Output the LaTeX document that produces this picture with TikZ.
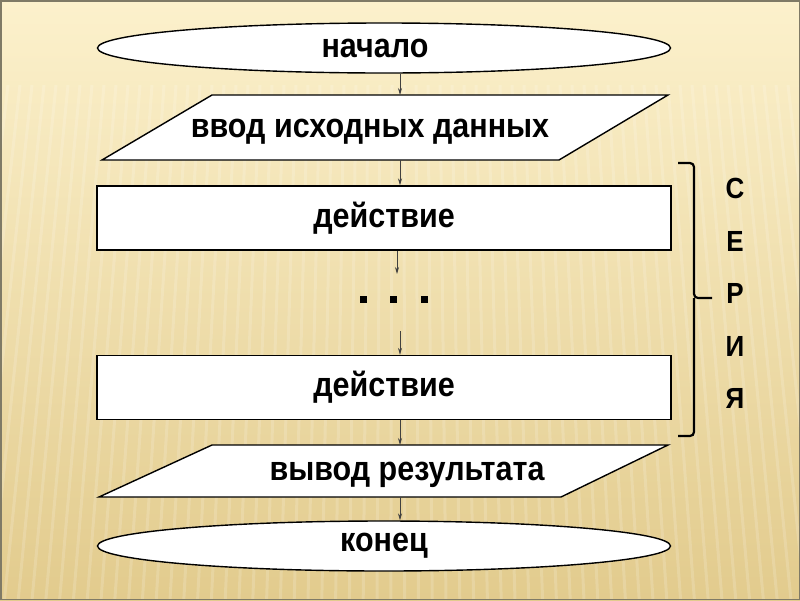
\documentclass[tikz,border=0pt]{standalone}
\usepackage{fontspec}
\usepackage{graphicx}
\setmainfont{Liberation Sans}
\usetikzlibrary{shapes.geometric,arrows.meta}

\definecolor{bgtop}{HTML}{FCF1CC}
\definecolor{bgmid}{HTML}{F3E2A8}
\definecolor{bgbot}{HTML}{E2CB8D}
\definecolor{framegray}{HTML}{7F7A66}
\definecolor{arrowgray}{HTML}{404040}

\newcommand\tall[1]{\scalebox{1}[1.12]{#1}}

\begin{document}
\begin{tikzpicture}[x=1pt,y=-1pt,
  term/.style={ellipse,draw,line width=1.4pt,fill=white,minimum width=573pt,minimum height=50pt,inner sep=0pt,font=\bfseries\fontsize{30.5}{36}\selectfont},
  act/.style={rectangle,draw,line width=1.4pt,fill=white,minimum width=574pt,minimum height=64pt,inner sep=0pt,font=\bfseries\fontsize{30.5}{36}\selectfont},
  iobox/.style={draw,line width=1.4pt,fill=white},
  txt/.style={inner sep=0pt,anchor=base,font=\bfseries\fontsize{30.5}{36}\selectfont},
  flow/.style={-{Stealth[length=7pt,width=4pt]},arrowgray,line width=0.7pt},
  letter/.style={inner sep=0pt,font=\bfseries\fontsize{26}{30}\selectfont}]
  % background
  \shade[top color=bgtop,middle color=bgmid,bottom color=bgbot] (0,0) rectangle (800,600);
  \begin{scope}
    \clip (0,85) rectangle (800,600);
    \foreach \i in {-40,-28,...,840}
      \draw[white,opacity=0.16,line width=3pt] (\i,85) -- ({\i+(\i-400)*0.15},600);
  \end{scope}
  \draw[framegray,line width=1.5pt] (0.75,0.75) rectangle (799.25,599.25);
  % parallelograms
  \coordinate (inpTL) at (212,95);
  \coordinate (inpTR) at (668,95);
  \coordinate (inpBR) at (559,160);
  \coordinate (inpBL) at (102,160);
  \coordinate (outTL) at (212,445);
  \coordinate (outTR) at (668,445);
  \coordinate (outBR) at (561,497);
  \coordinate (outBL) at (99,497);
  \draw[iobox] (inpTL) -- (inpTR) -- (inpBR) -- (inpBL) -- cycle;
  \draw[iobox] (outTL) -- (outTR) -- (outBR) -- (outBL) -- cycle;
  % blocks
  \node[term] (start) at (384,48) {\hspace*{-18pt}\tall{начало}};
  \node[txt] (inp) at (370,137) {\tall{ввод исходных данных}};
  \node[act] (act1) at (384,218) {\tall{действие}};
  \node[act] (act2) at (384,387.5) {\tall{действие}};
  \node[txt] (outp) at (407,480) {\tall{вывод результата}};
  \node[term] (stop) at (384,546) {\tall{конец}};
  % dots
  \foreach \x in {363,393,424}
    \fill (\x-3.5,295.5) rectangle ++(7,7);
  % arrows
  \coordinate (ax) at (400,0);
  \coordinate (gap1) at (397,274);
  \coordinate (gap2) at (400,331);
  \draw[flow] (start.south -| ax) -- (inpTL -| ax);
  \draw[flow] (inpBL -| ax) -- (act1.north -| ax);
  \draw[flow] (act1.south -| gap1) -- (gap1);
  \draw[flow] (gap2) -- (act2.north -| gap2);
  \draw[flow] (act2.south -| ax) -- (outTL -| ax);
  \draw[flow] (outBL -| ax) -- (stop.north -| ax);
  % brace
  \coordinate (braceTop) at (678,163);
  \coordinate (braceTip) at (712,298);
  \coordinate (braceBot) at (678,436);
  \draw[line width=2.2pt,rounded corners=4pt] (braceTop) -- (694,163) -- (694,298) -- (braceTip);
  \draw[line width=2.2pt,rounded corners=4pt] (694,298) -- (694,436) -- (braceBot);
  \foreach \ch [count=\k] in {С,Е,Р,И,Я}
    \node[letter] (ser\k) at (735,{136+52.5*\k}) {\tall{\ch}};
\end{tikzpicture}
\end{document}
